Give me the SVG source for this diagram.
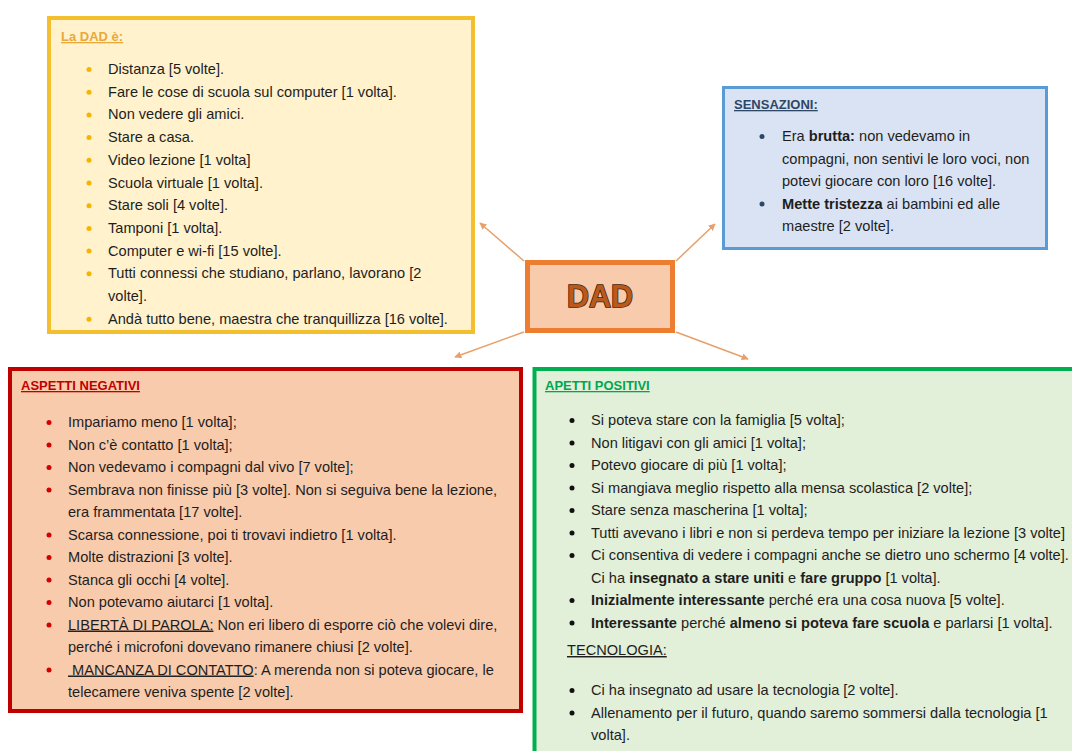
<svg xmlns="http://www.w3.org/2000/svg" width="1072" height="751" viewBox="0 0 1072 751">
  <style>
    .t { font-family: "Liberation Sans", Arial, sans-serif; font-size: 14.6px; fill: #1e1e1e; }
    .h { font-family: "Liberation Sans", Arial, sans-serif; font-size: 13px; font-weight: bold; text-decoration: underline; }
    .b { font-weight: bold; }
    .u { text-decoration: underline; }
    .conn { stroke: #e8a06a; stroke-width: 1.5; fill: none; marker-end: url(#ah); }
  </style>
  <defs>
    <marker id="ah" viewBox="0 0 10 10" refX="9" refY="5" markerWidth="7" markerHeight="7" orient="auto" markerUnits="userSpaceOnUse">
      <path d="M0,0 L10,5 L0,10 z" fill="#e8a06a"/>
    </marker>
  </defs>
  <rect width="1072" height="751" fill="#ffffff"/>

  <!-- connectors from the central node -->
  <g id="connectors">
    <line class="conn" x1="524" y1="261" x2="480" y2="223"/>
    <line class="conn" x1="676" y1="261" x2="715" y2="224"/>
    <line class="conn" x1="524" y1="332" x2="455" y2="357"/>
    <line class="conn" x1="676" y1="332" x2="748" y2="359"/>
  </g>

  <!-- central node -->
  <g id="dad">
    <rect x="527.5" y="262.5" width="145" height="68" fill="#f8cbad" stroke="#ed7d31" stroke-width="5"/>
    <text x="600" y="307" text-anchor="middle" textLength="66" lengthAdjust="spacingAndGlyphs" font-family="'Liberation Sans', Arial, sans-serif" font-size="32" font-weight="bold" fill="#b95a1c" stroke="#3e1a06" stroke-width="1.6" paint-order="stroke">DAD</text>
  </g>

  <!-- La DAD è -->
  <g id="ladad">
    <rect x="49" y="18" width="424" height="314" fill="#fff2cc" stroke="#f4bf2e" stroke-width="4"/>
    <text class="h" x="61" y="41" fill="#e9a83a">La DAD è:</text>
    <g fill="#f4b400">
      <circle cx="89" cy="69.5" r="2.5"/><circle cx="89" cy="92.2" r="2.5"/><circle cx="89" cy="114.9" r="2.5"/>
      <circle cx="89" cy="137.6" r="2.5"/><circle cx="89" cy="160.3" r="2.5"/><circle cx="89" cy="183" r="2.5"/>
      <circle cx="89" cy="205.7" r="2.5"/><circle cx="89" cy="228.4" r="2.5"/><circle cx="89" cy="251.1" r="2.5"/>
      <circle cx="89" cy="273.8" r="2.5"/><circle cx="89" cy="319.2" r="2.5"/>
    </g>
    <text class="t" x="108" y="74">Distanza [5 volte].</text>
    <text class="t" x="108" y="96.7">Fare le cose di scuola sul computer [1 volta].</text>
    <text class="t" x="108" y="119.4">Non vedere gli amici.</text>
    <text class="t" x="108" y="142.1">Stare a casa.</text>
    <text class="t" x="108" y="164.8">Video lezione [1 volta]</text>
    <text class="t" x="108" y="187.5">Scuola virtuale [1 volta].</text>
    <text class="t" x="108" y="210.2">Stare soli [4 volte].</text>
    <text class="t" x="108" y="232.9">Tamponi [1 volta].</text>
    <text class="t" x="108" y="255.6">Computer e wi-fi [15 volte].</text>
    <text class="t" x="108" y="278.3">Tutti connessi che studiano, parlano, lavorano [2</text>
    <text class="t" x="108" y="301">volte].</text>
    <text class="t" x="108" y="323.7">Andà tutto bene, maestra che tranquillizza [16 volte].</text>
  </g>

  <!-- Sensazioni -->
  <g id="sensazioni">
    <rect x="723.5" y="87.5" width="323" height="161" fill="#dae3f3" stroke="#5b9bd5" stroke-width="3"/>
    <text class="h" x="734" y="109" fill="#2e4766">SENSAZIONI:</text>
    <g fill="#2e4766">
      <circle cx="762" cy="136.5" r="2.5"/><circle cx="762" cy="204" r="2.5"/>
    </g>
    <text class="t" x="782" y="141">Era <tspan class="b">brutta:</tspan> non vedevamo in</text>
    <text class="t" x="782" y="163.5">compagni, non sentivi le loro voci, non</text>
    <text class="t" x="782" y="186">potevi giocare con loro [16 volte].</text>
    <text class="t" x="782" y="208.5"><tspan class="b">Mette tristezza</tspan> ai bambini ed alle</text>
    <text class="t" x="782" y="231">maestre [2 volte].</text>
  </g>

  <!-- Aspetti negativi -->
  <g id="negativi">
    <rect x="10" y="369" width="511" height="342" fill="#f8cbad" stroke="#c00000" stroke-width="4"/>
    <text class="h" x="21" y="390" fill="#c00000">ASPETTI NEGATIVI</text>
    <g fill="#d40000">
      <circle cx="49" cy="422.5" r="2.5"/><circle cx="49" cy="445" r="2.5"/><circle cx="49" cy="467.5" r="2.5"/>
      <circle cx="49" cy="490" r="2.5"/><circle cx="49" cy="535" r="2.5"/><circle cx="49" cy="557.5" r="2.5"/>
      <circle cx="49" cy="580" r="2.5"/><circle cx="49" cy="602.5" r="2.5"/><circle cx="49" cy="625" r="2.5"/>
      <circle cx="49" cy="670" r="2.5"/>
    </g>
    <text class="t" x="68" y="427">Impariamo meno [1 volta];</text>
    <text class="t" x="68" y="449.5">Non c’è contatto [1 volta];</text>
    <text class="t" x="68" y="472">Non vedevamo i compagni dal vivo [7 volte];</text>
    <text class="t" x="68" y="494.5">Sembrava non finisse più [3 volte]. Non si seguiva bene la lezione,</text>
    <text class="t" x="68" y="517">era frammentata [17 volte].</text>
    <text class="t" x="68" y="539.5">Scarsa connessione, poi ti trovavi indietro [1 volta].</text>
    <text class="t" x="68" y="562">Molte distrazioni [3 volte].</text>
    <text class="t" x="68" y="584.5">Stanca gli occhi [4 volte].</text>
    <text class="t" x="68" y="607">Non potevamo aiutarci [1 volta].</text>
    <text class="t" x="68" y="629.5"><tspan class="u">LIBERTÀ DI PAROLA:</tspan> Non eri libero di esporre ciò che volevi dire,</text>
    <text class="t" x="68" y="652">perché i microfoni dovevano rimanere chiusi [2 volte].</text>
    <text class="t" x="68" y="674.5"><tspan class="u">&#160;MANCANZA DI CONTATTO</tspan>: A merenda non si poteva giocare, le</text>
    <text class="t" x="68" y="697">telecamere veniva spente [2 volte].</text>
  </g>

  <!-- Aspetti positivi -->
  <g id="positivi">
    <rect x="534.5" y="369" width="545" height="392" fill="#e2efd9" stroke="#00b050" stroke-width="4"/>
    <text class="h" x="545" y="390" fill="#00a650">APETTI POSITIVI</text>
    <g fill="#111111">
      <circle cx="572" cy="420.5" r="2.5"/><circle cx="572" cy="443" r="2.5"/><circle cx="572" cy="465.5" r="2.5"/>
      <circle cx="572" cy="488" r="2.5"/><circle cx="572" cy="510.5" r="2.5"/><circle cx="572" cy="533" r="2.5"/>
      <circle cx="572" cy="555.5" r="2.5"/><circle cx="572" cy="600.5" r="2.5"/><circle cx="572" cy="623" r="2.5"/>
      <circle cx="572" cy="690.5" r="2.5"/><circle cx="572" cy="713" r="2.5"/>
    </g>
    <text class="t" x="591" y="425">Si poteva stare con la famiglia [5 volta];</text>
    <text class="t" x="591" y="447.5">Non litigavi con gli amici [1 volta];</text>
    <text class="t" x="591" y="470">Potevo giocare di più [1 volta];</text>
    <text class="t" x="591" y="492.5">Si mangiava meglio rispetto alla mensa scolastica [2 volte];</text>
    <text class="t" x="591" y="515">Stare senza mascherina [1 volta];</text>
    <text class="t" x="591" y="537.5">Tutti avevano i libri e non si perdeva tempo per iniziare la lezione [3 volte]</text>
    <text class="t" x="591" y="560">Ci consentiva di vedere i compagni anche se dietro uno schermo [4 volte].</text>
    <text class="t" x="591" y="582.5">Ci ha <tspan class="b">insegnato a stare uniti</tspan> e <tspan class="b">fare gruppo</tspan> [1 volta].</text>
    <text class="t" x="591" y="605"><tspan class="b">Inizialmente interessante</tspan> perché era una cosa nuova [5 volte].</text>
    <text class="t" x="591" y="627.5"><tspan class="b">Interessante</tspan> perché <tspan class="b">almeno si poteva fare scuola</tspan> e parlarsi [1 volta].</text>
    <text class="t u" x="567" y="655">TECNOLOGIA:</text>
    <text class="t" x="591" y="695">Ci ha insegnato ad usare la tecnologia [2 volte].</text>
    <text class="t" x="591" y="717.5">Allenamento per il futuro, quando saremo sommersi dalla tecnologia [1</text>
    <text class="t" x="591" y="740">volta].</text>
  </g>
</svg>
